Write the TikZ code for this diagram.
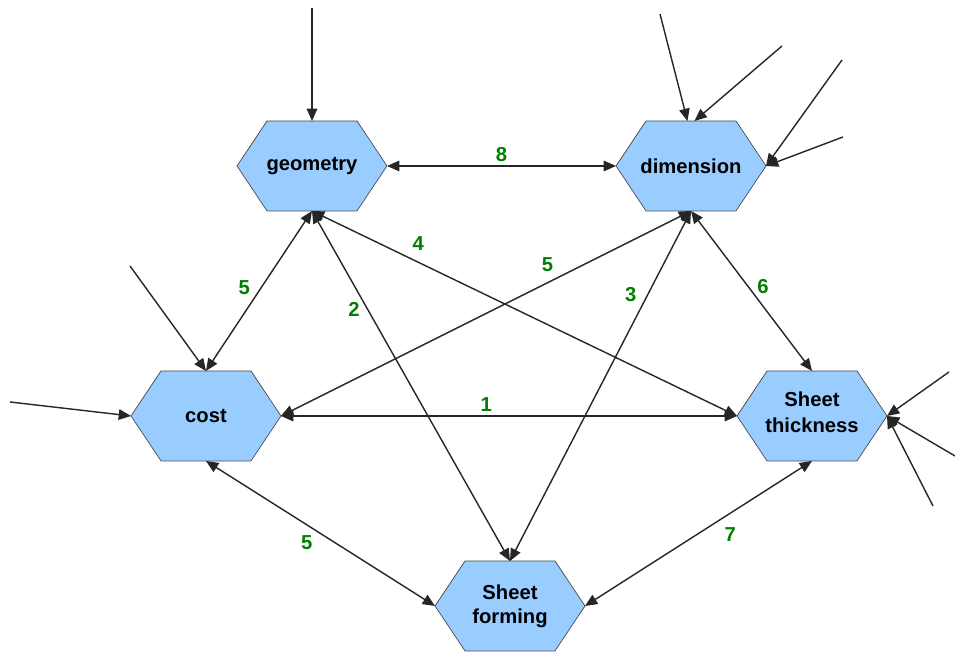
\documentclass[tikz,border=0pt]{standalone}
\usepackage{fontspec}
\setmainfont{Liberation Sans}
\usetikzlibrary{shapes.symbols,arrows.meta}
\definecolor{hexblue}{RGB}{153,204,255}
\definecolor{wtgreen}{RGB}{0,128,0}
\newcommand{\hexline}[1]{\makebox[1.6cm]{#1}}

\begin{document}
\begin{tikzpicture}[
	hexa/.style={shape=signal, signal to=east and west, signal pointer angle=112.6,
		draw=black!70, fill=hexblue, minimum width=3cm, minimum height=1.8cm,
		inner sep=0pt, outer sep=0pt, align=center,
		font=\bfseries\fontsize{11.5}{13.8}\selectfont},
	link/.style={{Triangle[length=7pt,width=6pt]}-{Triangle[length=7pt,width=6pt]},
		line width=0.8pt, black!85},
	inlink/.style={-{Triangle[length=7pt,width=6pt]}, line width=0.8pt, black!85},
	wt/.style={text=wtgreen, font=\bfseries\fontsize{11.5}{13.8}\selectfont, inner sep=2pt}
]
	\useasboundingbox (0,0) rectangle (19.1,13.06);

	\node[hexa] (geo)   at (6.24, 9.74)  {\hexline{geometry}};
	\node[hexa] (dim)   at (13.82, 9.74) {\hexline{dimension}};
	\node[hexa] (cost)  at (4.12, 4.74)  {\hexline{cost}};
	\node[hexa] (thick) at (16.24, 4.74) {\raisebox{4pt}{\shortstack{\hexline{Sheet}\\[3.5pt]\hexline{thickness}}}};
	\node[hexa] (form)  at (10.2, 0.94)  {\hexline{Sheet}\\\hexline{forming}};

	% outside inputs
	\coordinate (gin)  at (6.24, 12.9);
	\coordinate (din1) at (13.2, 12.78);
	\coordinate (din2) at (15.64, 12.14);
	\coordinate (din3) at (16.84, 11.86);
	\coordinate (din4) at (16.86, 10.32);
	\coordinate (cin1) at (2.6, 7.74);
	\coordinate (cin2) at (0.2, 5.02);
	\coordinate (tin1) at (18.98, 5.62);
	\coordinate (tin2) at (19.1, 3.94);
	\coordinate (tin3) at (18.66, 2.94);

	\draw[inlink] (gin)  -- (geo.north);
	\draw[inlink] (din1) -- ([xshift=-2pt]dim.north);
	\draw[inlink] (din2) -- ([xshift=2pt]dim.north);
	\draw[inlink] (din3) -- (dim.east);
	\draw[inlink] (din4) -- (dim.east);
	\draw[inlink] (cin1) -- (cost.north);
	\draw[inlink] (cin2) -- (cost.west);
	\draw[inlink] (tin1) -- (thick.east);
	\draw[inlink] (tin2) -- (thick.east);
	\draw[inlink] (tin3) -- (thick.east);

	% weighted links
	\path[link] (geo.east)   edge node[wt, pos=0.5, above]         {8} (dim.west);
	\path[link] (cost.east)  edge node[wt, pos=0.45, above]        {1} (thick.west);
	\path[link] (geo.south)  edge node[wt, pos=0.48, left=4pt]     {5} (cost.north);
	\path[link] (geo.south)  edge node[wt, pos=0.28, left=2pt]     {2} (form.north);
	\path[link] (geo.south)  edge node[wt, pos=0.25, above=4pt]    {4} (thick.west);
	\path[link] (dim.south)  edge node[wt, pos=0.35, above=4pt]    {5} (cost.east);
	\path[link] (dim.south)  edge node[wt, pos=0.24, left=4pt]     {3} (form.north);
	\path[link] (dim.south)  edge node[wt, pos=0.47, right=3pt]    {6} (thick.north);
	\path[link] (cost.south) edge node[wt, pos=0.44, below=4pt]    {5} (form.west);
	\path[link] (form.east)  edge node[wt, pos=0.64, below=6pt]    {7} (thick.south);
\end{tikzpicture}
\end{document}
